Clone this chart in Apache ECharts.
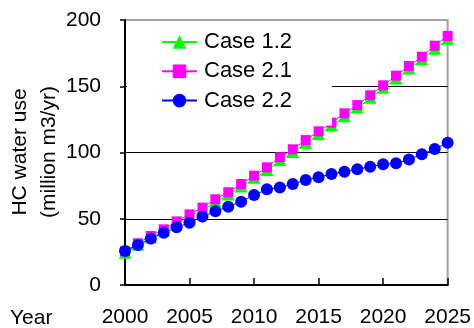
<!DOCTYPE html>
<html>
<head>
<meta charset="utf-8">
<script src="https://cdn.jsdelivr.net/npm/echarts@6/dist/echarts.min.js"></script>
<style>
  html, body { margin: 0; padding: 0; background: #fff; }
  #chart { width: 474px; height: 328px; }
</style>
</head>
<body>
<div id="chart"></div>
<script>
// Projected HC water use, 2000-2025 (million m3/yr)
const years = [2000, 2001, 2002, 2003, 2004, 2005, 2006, 2007, 2008, 2009, 2010, 2011, 2012,
               2013, 2014, 2015, 2016, 2017, 2018, 2019, 2020, 2021, 2022, 2023, 2024, 2025];
const case12 = [24, 30, 35.5, 40.5, 46.5, 51.5, 56.5, 62.5, 68, 74, 80.5, 86.5, 94,
                100, 107, 113.5, 120, 127, 133.5, 141, 148.5, 155.5, 163, 170, 178, 185.5];
const case21 = [25.5, 31.5, 37, 42, 48, 53.3, 58.4, 64.7, 70, 76.2, 82.5, 88.8, 96.4,
                102.4, 109.4, 116, 122.5, 129.6, 135.8, 143.2, 150.7, 158, 165.3, 172.3, 180.6, 188];
const case22 = [25.7, 30.2, 35, 39.5, 43.5, 47, 51.6, 55.6, 59.1, 62.9, 67.9, 72.2, 73.5,
                76.2, 79.2, 81.3, 83.8, 85.5, 87.3, 89.3, 91.1, 91.8, 94.8, 98.6, 102.6, 107.4];
const seriesNames = ['Case 1.2', 'Case 2.1', 'Case 2.2'];
const yTitle = ['HC water use', '(million m3/yr)'];
const xTitle = 'Year';

const FONT = '"Liberation Sans", Arial, sans-serif';
const pairs = vals => years.map((y, i) => [y, vals[i]]);

const chart = echarts.init(document.getElementById('chart'), null, { renderer: 'canvas' });

chart.setOption({
  animation: false,
  backgroundColor: '#fff',
  textStyle: { fontFamily: FONT },
  grid: {
    left: 125, right: 25, top: 20, bottom: 43,
    show: true, borderColor: '#a0a0a0', borderWidth: 2, backgroundColor: 'transparent'
  },
  legend: {
    orient: 'vertical',
    left: 127, top: 22,
    padding: [9, 40, 14, 34],
    backgroundColor: '#fff',
    itemWidth: 35, itemHeight: 17, itemGap: 7.3,
    textStyle: { fontSize: 22, color: '#000', fontFamily: FONT, lineHeight: 22, padding: [0, 0, 0, 2] },
    data: seriesNames
  },
  xAxis: {
    type: 'value', min: 2000, max: 2025, interval: 5,
    axisLine: { lineStyle: { color: '#000', width: 2 } },
    axisTick: { inside: true, length: 7, lineStyle: { color: '#000', width: 1.5 } },
    axisLabel: { fontSize: 21, color: '#000', margin: 22, fontFamily: FONT, formatter: v => String(v) },
    splitLine: { show: false }
  },
  yAxis: {
    type: 'value', min: 0, max: 200, interval: 50,
    axisLine: { show: true, lineStyle: { color: '#000', width: 2 } },
    axisTick: { show: true, inside: false, length: 5, lineStyle: { color: '#000', width: 1.5 } },
    axisLabel: { fontSize: 21, color: '#000', margin: 24, fontFamily: FONT },
    splitLine: { show: true, lineStyle: { color: ['#000', '#000', '#000', '#000', '#a0a0a0'], width: 1 } }
  },
  graphic: [
    { type: 'text', x: 20, y: 152, rotation: Math.PI / 2,
      style: { text: yTitle[0], font: '21px ' + FONT, fill: '#000', align: 'center', verticalAlign: 'middle' } },
    { type: 'text', x: 49, y: 152, rotation: Math.PI / 2,
      style: { text: yTitle[1], font: '21px ' + FONT, fill: '#000', align: 'center', verticalAlign: 'middle' } },
    { type: 'text', x: 10, y: 318,
      style: { text: xTitle, font: '21px ' + FONT, fill: '#000', align: 'left', verticalAlign: 'middle' } }
  ],
  series: [
    {
      name: seriesNames[0], type: 'line', data: pairs(case12),
      symbol: 'triangle', symbolSize: [13, 11],
      lineStyle: { color: '#00ff00', width: 1 },
      itemStyle: { color: '#00ff00' }
    },
    {
      name: seriesNames[1], type: 'line', data: pairs(case21),
      symbol: 'rect', symbolSize: 10,
      lineStyle: { color: '#ff00ff', width: 1 },
      itemStyle: { color: '#ff00ff' }
    },
    {
      name: seriesNames[2], type: 'line', data: pairs(case22),
      symbol: 'circle', symbolSize: 12,
      lineStyle: { color: '#0000ff', width: 1 },
      itemStyle: { color: '#0000ff' }
    }
  ]
});
</script>
</body>
</html>
